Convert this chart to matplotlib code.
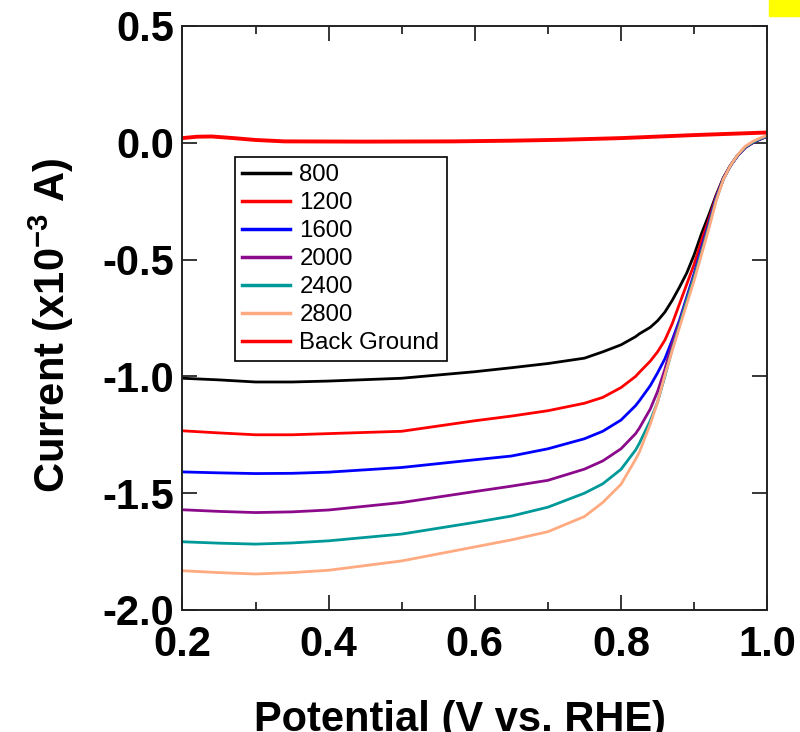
import matplotlib
matplotlib.use('Agg')
import matplotlib.pyplot as plt
from matplotlib.patches import Rectangle
from matplotlib.ticker import MultipleLocator, FormatStrFormatter

# Потенциал (V vs. RHE) - общая сетка для всех кривых
potential = [0.20, 0.25, 0.30, 0.35, 0.40, 0.50, 0.60, 0.65, 0.70, 0.75, 0.775, 0.80,
             0.82, 0.825, 0.84, 0.85, 0.86, 0.87, 0.88, 0.89, 0.90, 0.91, 0.92, 0.93,
             0.94, 0.95, 0.96, 0.97, 0.98, 0.99, 1.00]

# Ток (x10^-3 A) для каждой скорости вращения
i_800 = [-1.008, -1.015, -1.024, -1.024, -1.020, -1.008, -0.980, -0.963, -0.945, -0.922, -0.895, -0.865,
         -0.830, -0.818, -0.790, -0.762, -0.725, -0.675, -0.618, -0.557, -0.480, -0.390, -0.310, -0.225,
         -0.150, -0.095, -0.052, -0.020, 0.000, 0.015, 0.028]
i_1200 = [-1.233, -1.242, -1.250, -1.250, -1.245, -1.235, -1.190, -1.170, -1.147, -1.115, -1.090, -1.048,
          -1.000, -0.983, -0.935, -0.895, -0.845, -0.775, -0.690, -0.605, -0.520, -0.420, -0.330, -0.230,
          -0.152, -0.096, -0.053, -0.020, 0.000, 0.015, 0.028]
i_1600 = [-1.409, -1.413, -1.416, -1.415, -1.410, -1.390, -1.357, -1.341, -1.310, -1.267, -1.235, -1.187,
          -1.125, -1.105, -1.040, -0.985, -0.925, -0.845, -0.760, -0.660, -0.560, -0.450, -0.345, -0.235,
          -0.154, -0.097, -0.053, -0.020, 0.000, 0.015, 0.028]
i_2000 = [-1.571, -1.578, -1.583, -1.580, -1.572, -1.540, -1.493, -1.470, -1.445, -1.397, -1.362, -1.310,
          -1.245, -1.222, -1.140, -1.065, -0.970, -0.860, -0.770, -0.670, -0.570, -0.460, -0.350, -0.240,
          -0.155, -0.097, -0.053, -0.019, 0.001, 0.016, 0.029]
i_2400 = [-1.708, -1.714, -1.718, -1.713, -1.704, -1.675, -1.625, -1.598, -1.560, -1.500, -1.460, -1.398,
          -1.315, -1.287, -1.190, -1.110, -1.000, -0.885, -0.780, -0.675, -0.575, -0.470, -0.360, -0.245,
          -0.156, -0.097, -0.052, -0.018, 0.002, 0.017, 0.030]
i_2800 = [-1.832, -1.840, -1.846, -1.840, -1.830, -1.790, -1.730, -1.700, -1.665, -1.600, -1.540, -1.462,
          -1.355, -1.325, -1.205, -1.110, -0.995, -0.890, -0.790, -0.690, -0.590, -0.480, -0.370, -0.250,
          -0.157, -0.096, -0.050, -0.015, 0.005, 0.020, 0.032]

# Фон (Back Ground)
bg_potential = [0.20, 0.22, 0.24, 0.27, 0.30, 0.34, 0.45, 0.57, 0.65, 0.72, 0.80, 0.90, 1.00]
bg_current = [0.020, 0.026, 0.027, 0.020, 0.012, 0.006, 0.005, 0.006, 0.009, 0.013, 0.020, 0.033, 0.044]

labels = ['800', '1200', '1600', '2000', '2400', '2800', 'Back Ground']
colors = ['black', '#ff0000', '#0000ff', '#8b0a8b', '#009999', '#ffaa80', '#ff0000']

plt.rcParams['font.family'] = ['Liberation Sans', 'DejaVu Sans']
plt.rcParams['axes.unicode_minus'] = False
plt.rcParams['mathtext.fontset'] = 'custom'
plt.rcParams['mathtext.rm'] = 'Liberation Sans:bold'
plt.rcParams['mathtext.bf'] = 'Liberation Sans:bold'
plt.rcParams['mathtext.default'] = 'bf'

fig = plt.figure(figsize=(8, 7.32), dpi=100)
ax = fig.add_axes([0.228, 0.1667, 0.731, 0.7978])

series = [i_800, i_1200, i_1600, i_2000, i_2400, i_2800]
for vals, lab, col in zip(series, labels[:6], colors[:6]):
    ax.plot(potential, vals, color=col, lw=2.0, label=lab, solid_joinstyle='round')
ax.plot(bg_potential, bg_current, color=colors[6], lw=2.8, label=labels[6])

ax.set_xlim(0.2, 1.0)
ax.set_ylim(-2.0, 0.5)
ax.xaxis.set_major_locator(MultipleLocator(0.2))
ax.xaxis.set_minor_locator(MultipleLocator(0.1))
ax.yaxis.set_major_locator(MultipleLocator(0.5))
ax.xaxis.set_major_formatter(FormatStrFormatter('%.1f'))
ax.yaxis.set_major_formatter(FormatStrFormatter('%.1f'))

ax.tick_params(which='both', direction='in', top=True, right=True, width=1.1, color='black')
ax.tick_params(which='major', length=11)
ax.tick_params(which='minor', length=5.5)
ax.tick_params(axis='x', which='major', pad=11)
ax.tick_params(axis='y', which='major', pad=6)
for lbl in ax.get_xticklabels() + ax.get_yticklabels():
    lbl.set_fontsize(30)
    lbl.set_fontweight('bold')
for sp in ax.spines.values():
    sp.set_linewidth(1.4)
    sp.set_color('#222222')

# Подписи осей
fig.text(0.064, 0.556, 'Current (x10$^{-3}$ A)', rotation=90, ha='center', va='center',
         fontsize=30, fontweight='bold')
fig.text(0.575, 1 - 731 / 732, 'Potential (V vs. RHE)', ha='center', va='baseline',
         fontsize=30, fontweight='bold')

leg = ax.legend(loc='upper left', bbox_to_anchor=(0.09, 0.776), borderaxespad=0,
                fontsize=17.3, frameon=True, fancybox=False, framealpha=1,
                edgecolor='black', handlelength=2.0, handletextpad=0.38,
                labelspacing=0.25, borderpad=0.3)
leg.get_frame().set_linewidth(1.2)
for h in leg.get_lines():
    h.set_linewidth(2.5)

# Жёлтый прямоугольник в правом верхнем углу
fig.patches.append(Rectangle((769 / 800, 1 - 16 / 732), 31 / 800, 16 / 732,
                             transform=fig.transFigure, color='#ffff00', zorder=5))

fig.savefig('out.png', dpi=100)
